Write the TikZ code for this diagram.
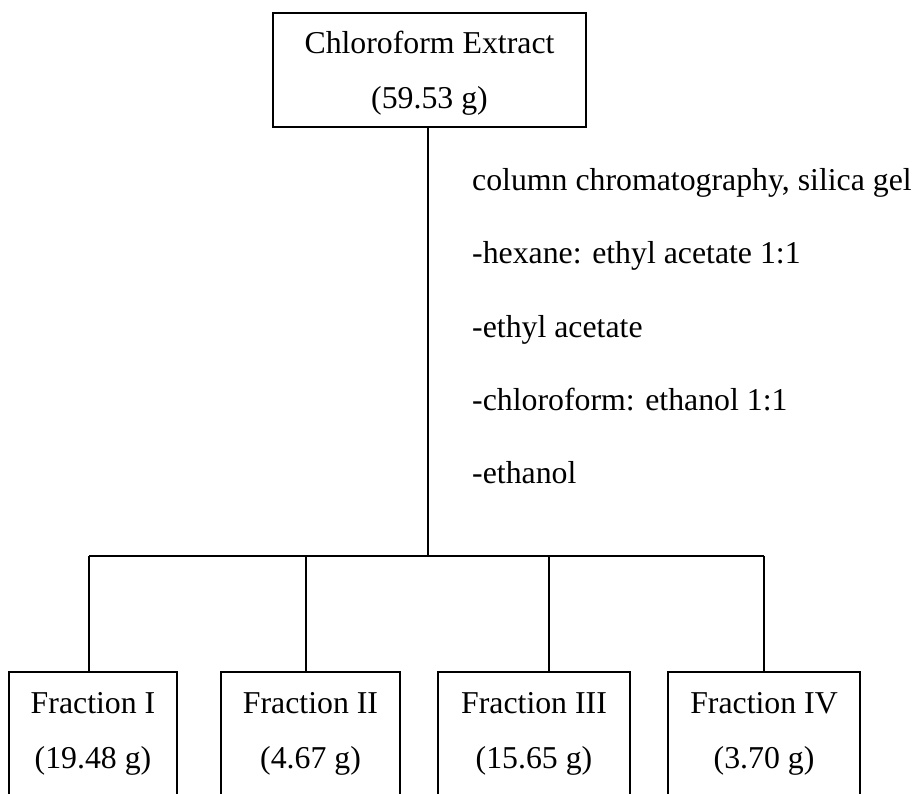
\documentclass[tikz,border=0pt]{standalone}
\usepackage{fontspec}
\setmainfont{Liberation Serif}
\begin{document}
\begin{tikzpicture}[x=1pt,y=-1pt,
  box/.style={draw,line width=2pt,rectangle,inner sep=0pt},
  lbl/.style={inner sep=0pt,anchor=base,font=\fontsize{31.8}{38}\selectfont},
  side/.style={lbl,anchor=base west},
  conn/.style={line width=2pt}]
\useasboundingbox (0,0) rectangle (918,793);
\clip (0,0) rectangle (918,793);
% top box
\node[box,minimum width=313pt,minimum height=114pt] (top) at (429.5,70) {};
\node[lbl] (t1) at (429.5,53) {Chloroform Extract};
\node[lbl] (t2) at (429.5,108) {(59.53 g)};
% side text
\node[side] (s1) at (472,190) {column chromatography, silica gel};
\node[side] (s2) at (472,263) {-hexane: ethyl acetate 1:1};
\node[side] (s3) at (472,337) {-ethyl acetate};
\node[side] (s4) at (472,410) {-chloroform: ethanol 1:1};
\node[side] (s5) at (472,483) {-ethanol};
% bottom boxes
\node[box,minimum width=168pt,minimum height=148pt] (f1) at (93,746) {};
\node[box,minimum width=179pt,minimum height=148pt] (f2) at (310.5,746) {};
\node[box,minimum width=192pt,minimum height=148pt] (f3) at (534,746) {};
\node[box,minimum width=192pt,minimum height=148pt] (f4) at (764,746) {};
\node[lbl] (a1) at (93,713) {Fraction I};
\node[lbl] (b1t) at (93,768) {(19.48 g)};
\node[lbl] (a2) at (310.5,713) {Fraction II};
\node[lbl] (b2t) at (310.5,768) {(4.67 g)};
\node[lbl] (a3) at (534,713) {Fraction III};
\node[lbl] (b3t) at (534,768) {(15.65 g)};
\node[lbl] (a4) at (764,713) {Fraction IV};
\node[lbl] (b4t) at (764,768) {(3.70 g)};
% connectors
\coordinate (j) at (428,556);
\coordinate (c1) at (89,556);
\coordinate (c2) at (306,556);
\coordinate (c3) at (549,556);
\coordinate (c4) at (764,556);
\draw[conn] (top.south -| j) -- (j);
\draw[conn] (c1) -- (c4);
\draw[conn] (c1) -- (c1 |- f1.north);
\draw[conn] (c2) -- (c2 |- f2.north);
\draw[conn] (c3) -- (c3 |- f3.north);
\draw[conn] (c4) -- (c4 |- f4.north);
\end{tikzpicture}
\end{document}
